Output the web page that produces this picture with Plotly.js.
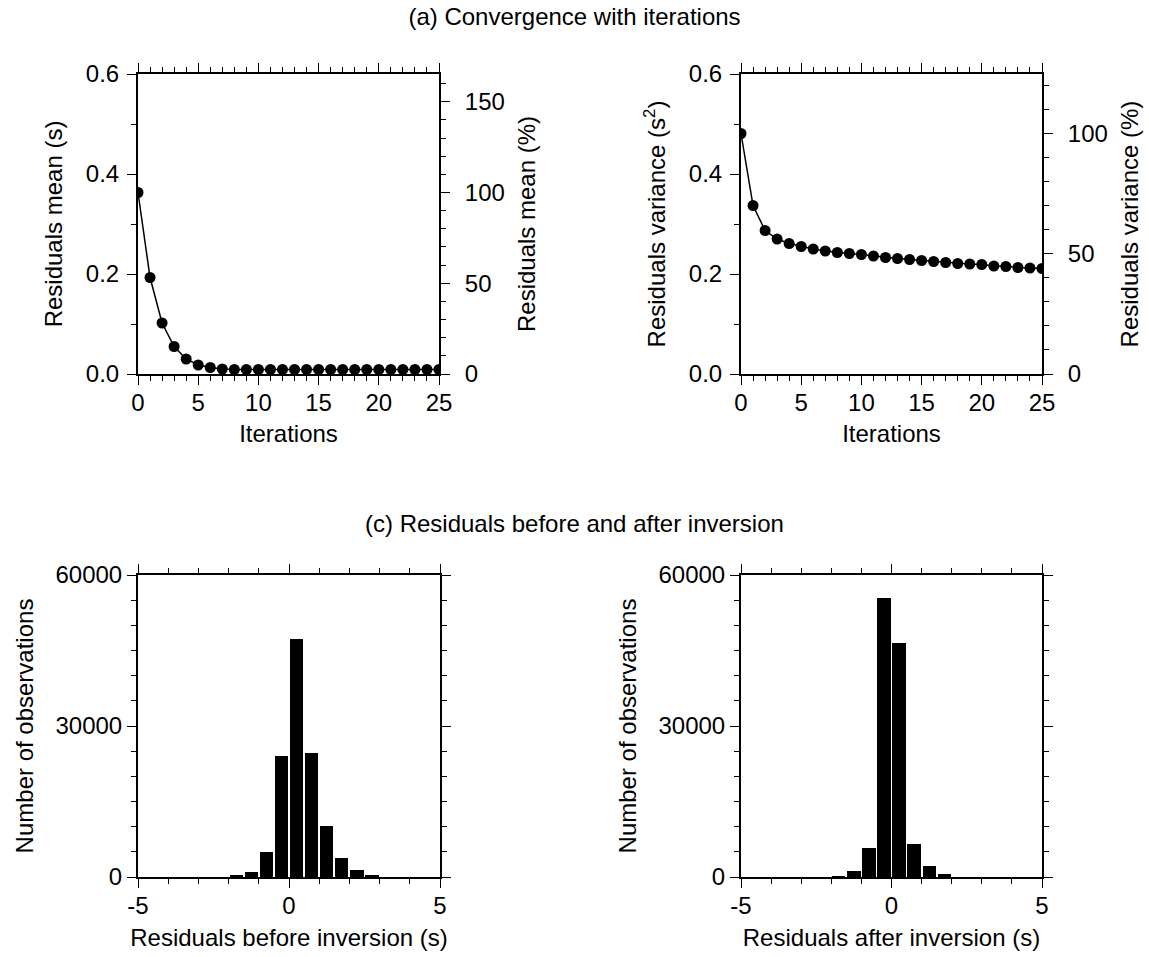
<!DOCTYPE html>
<html>
<head>
<meta charset="utf-8">
<script src="https://cdn.plot.ly/plotly-3.0.1.min.js"></script>
<style>html,body{margin:0;padding:0;background:#fff;}#chart{width:1149px;height:957px;}</style>
</head>
<body>
<div id="chart"></div>
<script>
// ---- data ----
const iterations = [0,1,2,3,4,5,6,7,8,9,10,11,12,13,14,15,16,17,18,19,20,21,22,23,24,25];
const residualsMean = [0.363,0.193,0.102,0.055,0.030,0.018,0.013,0.010,0.009,0.009,0.009,0.009,0.009,0.009,0.009,0.009,0.009,0.009,0.009,0.009,0.009,0.009,0.009,0.009,0.009,0.009];
const residualsVariance = [0.481,0.337,0.287,0.270,0.261,0.255,0.250,0.246,0.243,0.241,0.239,0.236,0.233,0.231,0.229,0.227,0.225,0.223,0.221,0.220,0.219,0.216,0.215,0.213,0.212,0.211];

const binCenters = [-2.25,-1.75,-1.25,-0.75,-0.25,0.25,0.75,1.25,1.75,2.25,2.75,3.25];
const countsBefore = [0,300,1070,4980,24100,47200,24600,10100,3800,1400,470,0];
const countsAfter  = [0,200,1200,5850,55500,46500,6600,2200,530,0,0,0];

const residualTickVals = [-5,0,5];
const residualTickText = ['-5','0','5'];
const countTickVals = [0,30000,60000];
const countTickText = ['0','30000','60000'];

const titleTop = "(a) Convergence with iterations";
const titleBottom = "(c) Residuals before and after inversion";

// ---- styling ----
const W = 1149, H = 957;
const FONT = "Liberation Sans, Arial, Helvetica, sans-serif";
const fs = 24;
function px(a,b){return [a/W, b/W];}
function py(top,bottom){return [1-bottom/H, 1-top/H];}

function baseAxis(extra){
  return Object.assign({
    showline:true, linecolor:'#000', linewidth:2,
    ticks:'outside', ticklen:9, tickwidth:1, tickcolor:'#000',
    showgrid:false, zeroline:false,
    tickfont:{family:FONT,size:fs,color:'#000'},
    fixedrange:true
  }, extra);
}
function minor(t0,d){return {tick0:t0, dtick:d, ticks:'outside', ticklen:5, tickwidth:1, tickcolor:'#000', showgrid:false};}

const meanPctMax = 0.6/residualsMean[0]*100;
const varPctMax = 0.6/residualsVariance[0]*100;

const traces = [
  {x:iterations, y:residualsMean, xaxis:'x', yaxis:'y', type:'scatter', mode:'lines+markers',
   line:{color:'#000',width:1.5}, marker:{color:'#000',size:11}, cliponaxis:true, showlegend:false},
  {x:[0], y:[null], xaxis:'x', yaxis:'y2', type:'scatter', mode:'markers', showlegend:false},
  {x:iterations, y:residualsVariance, xaxis:'x2', yaxis:'y3', type:'scatter', mode:'lines+markers',
   line:{color:'#000',width:1.5}, marker:{color:'#000',size:11}, cliponaxis:true, showlegend:false},
  {x:[0], y:[null], xaxis:'x2', yaxis:'y4', type:'scatter', mode:'markers', showlegend:false},
  {x:binCenters, y:countsBefore, xaxis:'x3', yaxis:'y5', type:'bar', width:0.44,
   marker:{color:'#000', line:{width:0}}, showlegend:false},
  {x:binCenters, y:countsAfter, xaxis:'x4', yaxis:'y6', type:'bar', width:0.44,
   marker:{color:'#000', line:{width:0}}, showlegend:false}
];

const axTitle = (t, s) => ({text:t, font:{family:FONT,size:fs,color:'#000'}, standoff:s});

const iterAxis = (dom, anchor) => baseAxis({domain:dom, anchor:anchor, range:[0,25], tick0:0, dtick:5,
  minor:minor(0,1), mirror:'ticks', ticklabelstandoff:-3, title:axTitle('Iterations',10)});
const secAxis = (anchor, title) => baseAxis({domain:py(74,374), anchor:anchor, range:[0,0.6], tick0:0, dtick:0.2,
  tickformat:'.1f', minor:minor(0,0.1), ticklabelstandoff:3, title:axTitle(title,16)});
const pctAxis = (over, anchor, rmax, title) => baseAxis({overlaying:over, side:'right', anchor:anchor, range:[0,rmax],
  tick0:0, dtick:50, minor:minor(0,10), ticklabelstandoff:10, title:axTitle(title,14)});
const resAxis = (dom, anchor, title) => baseAxis({domain:dom, anchor:anchor, range:[-5,5], tickmode:'array',
  tickvals:residualTickVals, ticktext:residualTickText, minor:minor(-5,1), mirror:'ticks', ticklabelstandoff:-3,
  title:axTitle(title,11)});
const cntAxis = (anchor) => baseAxis({domain:py(575,877), anchor:anchor, range:[0,60000], tickmode:'array',
  tickvals:countTickVals, ticktext:countTickText, minor:minor(0,5000), mirror:'ticks', ticklabelstandoff:0,
  title:axTitle('Number of observations',15)});

const layout = {
  width:W, height:H,
  margin:{l:0,r:0,t:0,b:0},
  paper_bgcolor:'#fff', plot_bgcolor:'#fff',
  showlegend:false,
  font:{family:FONT,size:fs,color:'#000'},
  title:{text:titleTop, font:{family:FONT,size:fs,color:'#000'}, x:0.5, xanchor:'center', y:1-17/H, yanchor:'middle', xref:'paper', yref:'paper'},
  annotations:[
    {text:titleBottom, xref:'paper', yref:'paper', x:0.5, y:1-523/H, xanchor:'center', yanchor:'middle', showarrow:false,
     font:{family:FONT,size:fs,color:'#000'}}
  ],
  xaxis: iterAxis(px(138,439),'y'),
  yaxis: secAxis('x','Residuals mean (s)'),
  yaxis2: pctAxis('y','x',meanPctMax,'Residuals mean (%)'),
  xaxis2: iterAxis(px(741,1042),'y3'),
  yaxis3: secAxis('x2','Residuals variance (s<sup>2</sup>)'),
  yaxis4: pctAxis('y3','x2',varPctMax,'Residuals variance (%)'),
  xaxis3: resAxis(px(138,440),'y5','Residuals before inversion (s)'),
  yaxis5: cntAxis('x3'),
  xaxis4: resAxis(px(741,1042),'y6','Residuals after inversion (s)'),
  yaxis6: cntAxis('x4'),
  bargap:0
};

Plotly.newPlot('chart', traces, layout, {displayModeBar:false, staticPlot:true});
</script>
</body>
</html>
